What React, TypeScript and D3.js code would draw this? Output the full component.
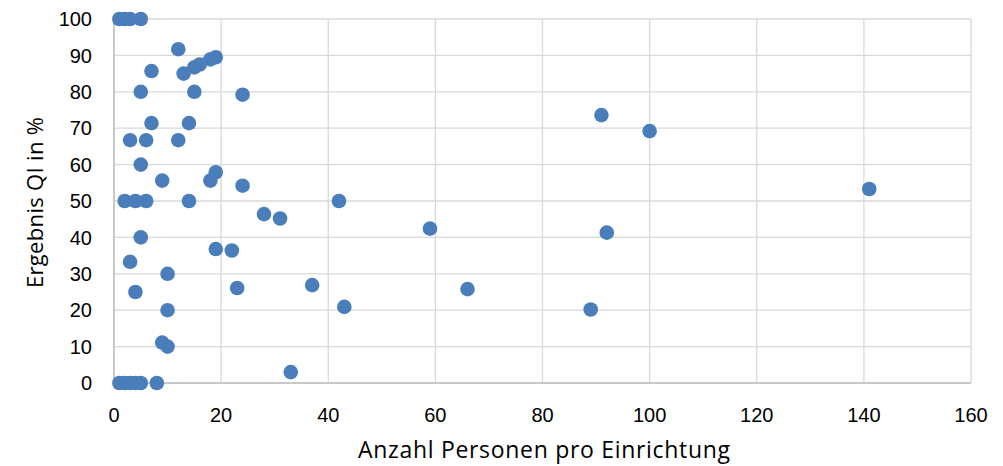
import React from "react";
import * as d3 from "d3";

// Persons per facility (x) and QI result in percent (y)
const personen = [
  1, 2, 3, 5,
  12, 13, 15, 16, 18, 19, 7,
  5, 15, 24, 91, 100, 7, 14,
  3, 6, 12, 5, 9, 18, 19, 24,
  2, 4, 6, 14, 42, 141,
  28, 31, 59, 92, 5, 19, 22, 3,
  10, 37, 23, 66, 4, 43, 10, 89,
  9, 10, 33,
  1, 2, 3, 4, 5, 8,
];
const ergebnis = [
  100, 100, 100, 100,
  91.7, 85, 86.7, 87.5, 88.9, 89.5, 85.7,
  80, 80, 79.2, 73.6, 69.2, 71.4, 71.4,
  66.7, 66.7, 66.7, 60, 55.6, 55.6, 57.9, 54.2,
  50, 50, 50, 50, 50, 53.3,
  46.4, 45.2, 42.4, 41.3, 40, 36.8, 36.4, 33.3,
  30, 26.9, 26.1, 25.8, 25, 20.9, 20, 20.2,
  11.1, 10, 3,
  0, 0, 0, 0, 0, 0,
];
const xTicks = [0, 20, 40, 60, 80, 100, 120, 140, 160];
const yTicks = [0, 10, 20, 30, 40, 50, 60, 70, 80, 90, 100];
const xTitle = "Anzahl Personen pro Einrichtung";
const yTitle = "Ergebnis QI in %";

const W = 1003;
const H = 466;
const left = 114;
const right = 971;
const top = 19;
const bottom = 383;
const tickFont = "Liberation Sans, Arial, sans-serif";
const titleFont = "Open Sans, Liberation Sans, sans-serif";

export default function App() {
  const x = d3.scaleLinear().domain([0, 160]).range([left, right]);
  const y = d3.scaleLinear().domain([0, 100]).range([bottom, top]);
  const points = personen.map((p, i) => ({ p, e: ergebnis[i] }));

  return (
    <svg
      width={W}
      height={H}
      style={{ position: "absolute", left: 0, top: 0, background: "#fff" }}
    >
      {yTicks.map((t) => (
        <line key={"gy" + t} x1={left} x2={right} y1={y(t)} y2={y(t)} stroke="#d9d9d9" strokeWidth={1.3} />
      ))}
      {xTicks.map((t) => (
        <line key={"gx" + t} x1={x(t)} x2={x(t)} y1={top} y2={bottom} stroke="#d9d9d9" strokeWidth={1.3} />
      ))}
      <line x1={left} x2={left} y1={top} y2={bottom} stroke="#bfbfbf" strokeWidth={1.5} />
      <line x1={left} x2={right} y1={bottom} y2={bottom} stroke="#bfbfbf" strokeWidth={1.5} />

      {yTicks.map((t) => (
        <text key={"ly" + t} x={left - 22} y={y(t)} dy="0.36em" textAnchor="end" fontFamily={tickFont} fontSize={20} fill="#000">
          {t}
        </text>
      ))}
      {xTicks.map((t) => (
        <text key={"lx" + t} x={x(t)} y={422} textAnchor="middle" fontFamily={tickFont} fontSize={20} fill="#000">
          {t}
        </text>
      ))}

      <text
        x={358}
        y={458}
        fontFamily={titleFont}
        fontSize={23}
        textLength={372}
        lengthAdjust="spacing"
        fill="#000"
      >
        {xTitle}
      </text>
      <text
        transform="translate(43, 288) rotate(-90)"
        fontFamily={titleFont}
        fontSize={22}
        textLength={171}
        lengthAdjust="spacing"
        fill="#000"
      >
        {yTitle}
      </text>

      {points.map((d, i) => (
        <circle key={i} cx={x(d.p)} cy={y(d.e)} r={7.3} fill="#4a7ebb" />
      ))}
    </svg>
  );
}
